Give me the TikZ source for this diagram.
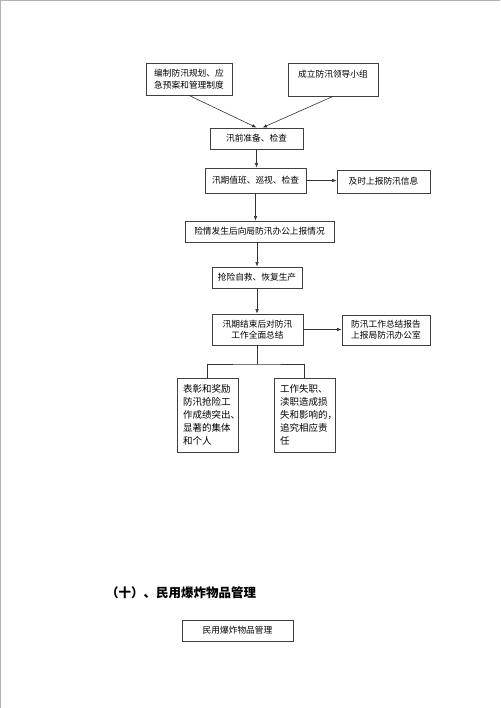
\documentclass[tikz,border=0pt]{standalone}
\usepackage{fontspec}
\newfontfamily\cjk{Noto Sans CJK SC}
\usetikzlibrary{arrows.meta}

\begin{document}
\begin{tikzpicture}[x=1pt, y=-1pt,
	box/.style={draw=black!75, line width=0.8pt, inner sep=0pt, align=center, font=\cjk\fontsize{8.7}{11.5}\selectfont},
	tall/.style={box, align=left, minimum width=61pt, minimum height=74pt, text width=49pt, font=\cjk\fontsize{9.5}{13}\selectfont},
	flow/.style={draw=black!80, line width=0.6pt, -{Latex[length=4.5pt,width=3.5pt]}},
	link/.style={draw=black!80, line width=0.6pt}]
		\useasboundingbox (0,0) rectangle (500,708);
		\draw[black!30, line width=1.5pt] (0,708)--(0,0)--(500,0);
		%框
		\node[box, align=left, minimum width=86pt, minimum height=32pt] (plan) at (189,79) {编制防汛规划、应\\急预案和管理制度};
		\node[box, align=left, minimum width=90pt, minimum height=33pt] (group) at (333,79.5) {成立防汛领导小组\\~};
		\node[box, minimum width=93pt, minimum height=21pt] (prep) at (256.5,138.5) {汛前准备、检查};
		\node[box, minimum width=101pt, minimum height=25pt] (duty) at (255.5,180.5) {汛期值班、巡视、检查};
		\node[box, minimum width=93pt, minimum height=23pt] (info) at (383.5,181.5) {及时上报防汛信息};
		\node[box, minimum width=149pt, minimum height=21pt] (report) at (259.5,231.5) {险情发生后向局防汛办公上报情况};
		\node[box, minimum width=90pt, minimum height=21pt] (rescue) at (257,277.5) {抢险自救、恢复生产};
		\node[box, minimum width=91pt, minimum height=31pt] (summary) at (257.5,329.5) {汛期结束后对防汛\\工作全面总结};
		\node[box, minimum width=88pt, minimum height=30pt] (office) at (386,330) {防汛工作总结报告\\上报局防汛办公室};
		\node[tall] (reward) at (207.5,415) {表彰和奖励\\防汛抢险工\\作成绩突出、\\显著的集体\\和个人};
		\node[tall] (blame) at (304.5,415) {工作失职、\\渎职造成损\\失和影响的，\\追究相应责\\任};
		%箭头
		\draw[flow] (plan.south) -- (prep.north);
		\draw[flow] (group.south) -- ([xshift=6pt]prep.north);
		\draw[flow] (prep.south) -- (prep.south |- duty.north);
		\draw[flow] (duty.east) -- (duty.east -| info.west);
		\draw[flow] (duty.south) -- (duty.south |- report.north);
		\draw[flow] (rescue.north |- report.south) -- (rescue.north);
		\draw[flow] (rescue.south) -- (rescue.south |- summary.north);
		\draw[flow] (summary.east) -- (summary.east -| office.west);
		\coordinate (fork) at (257.5,364);
		\draw[link] (summary.south) -- (fork);
		\draw[link] (reward.north) |- (fork) -| (blame.north);
		%民用爆炸物品
		\node[font=\cjk\bfseries\fontsize{12.5}{15}\selectfont] (title) at (181,593) {（十）、民用爆炸物品管理};
		\node[box, minimum width=111pt, minimum height=21pt] (blast) at (237.5,630.5) {民用爆炸物品管理};
	\end{tikzpicture}
\end{document}
